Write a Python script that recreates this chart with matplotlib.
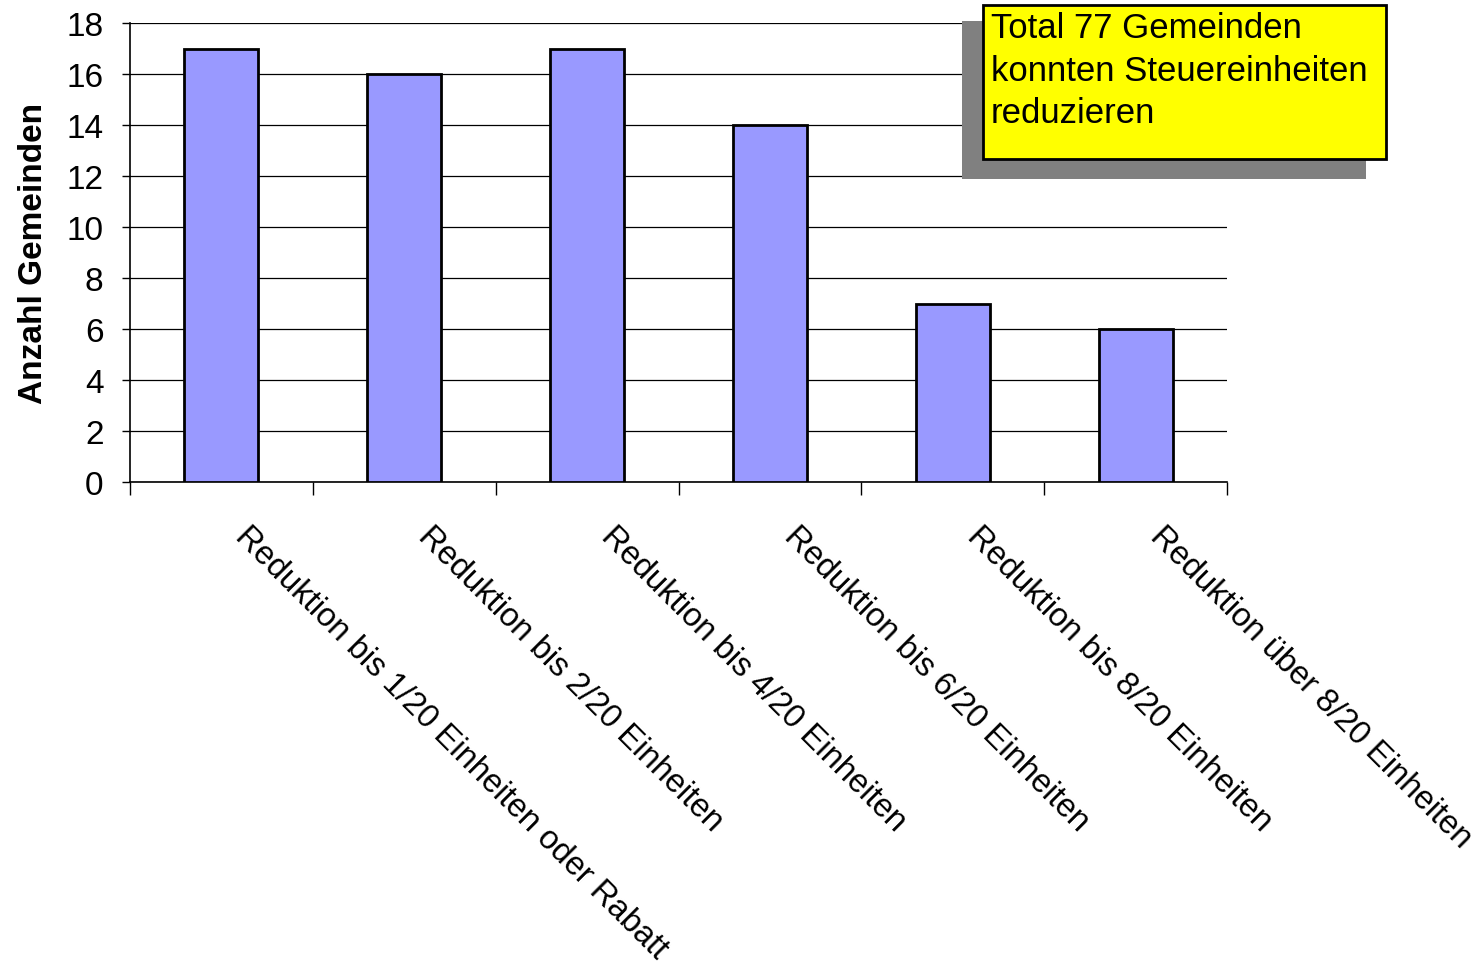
import numpy as np
import matplotlib.pyplot as plt
from matplotlib.patches import Rectangle
from matplotlib.transforms import ScaledTranslation

plt.rcParams['font.family'] = ['Liberation Sans', 'DejaVu Sans']

# Daten: Anzahl Gemeinden je Reduktionsstufe
kategorien = [
    'Reduktion bis 1/20 Einheiten oder Rabatt',
    'Reduktion bis 2/20 Einheiten',
    'Reduktion bis 4/20 Einheiten',
    'Reduktion bis 6/20 Einheiten',
    'Reduktion bis 8/20 Einheiten',
    'Reduktion über 8/20 Einheiten',
]
anzahl = [17, 16, 17, 14, 7, 6]
y_ticks = [0, 2, 4, 6, 8, 10, 12, 14, 16, 18]
hinweis = ['Total 77 Gemeinden', 'konnten Steuereinheiten', 'reduzieren']

W, H = 1482, 970
fig = plt.figure(figsize=(W / 100, H / 100), dpi=100)
ax = fig.add_axes([130 / W, 1 - 483 / H, 1097 / W, 459 / H])

x = np.arange(len(kategorien))
ax.bar(x, anzahl, width=0.405, color='#9999FF', edgecolor='black', linewidth=2, zorder=3)

ax.set_xlim(-0.5, len(kategorien) - 0.5)
ax.set_ylim(0, 18)
ax.set_yticks(y_ticks)
ax.yaxis.grid(True, color='black', linewidth=0.9, zorder=0)

# Striche an den Kategoriegrenzen
ax.set_xticks(np.arange(len(kategorien) + 1) - 0.5)
ax.set_xticklabels([])
ax.tick_params(axis='x', length=9, width=1, direction='out')
ax.tick_params(axis='y', length=6, width=1, direction='out', labelsize=24, pad=13)

# schräge Kategorienamen unter der Achse
offset = ScaledTranslation(13 / 100, -55 / 100, fig.dpi_scale_trans)
for xi, name in zip(x, kategorien):
    ax.text(xi, 0, name, transform=ax.get_xaxis_transform() + offset,
            rotation=-45, rotation_mode='anchor', ha='left', va='baseline',
            fontsize=23.6)

for s in ['top', 'right']:
    ax.spines[s].set_visible(False)
ax.spines['left'].set_linewidth(1.2)
ax.spines['bottom'].set_linewidth(1.2)

ax.set_ylabel('Anzahl Gemeinden', fontsize=24, fontweight='bold')
ax.yaxis.set_label_coords(-0.0738, 0.5)

# Hinweisbox mit Schatten
fig.patches.append(Rectangle((962 / W, 1 - 180 / H), 404 / W, 158 / H,
                             transform=fig.transFigure, facecolor='#808080',
                             edgecolor='none', zorder=5))
fig.patches.append(Rectangle((983 / W, 1 - 160 / H), 403 / W, 154 / H,
                             transform=fig.transFigure, facecolor='#FFFF00',
                             edgecolor='black', linewidth=2, zorder=6))
for i, zeile in enumerate(hinweis):
    fig.text(991 / W, 1 - (38.5 + 42.4 * i) / H, zeile, fontsize=25,
             va='baseline', ha='left', zorder=7)

fig.savefig('out.png', dpi=100)
